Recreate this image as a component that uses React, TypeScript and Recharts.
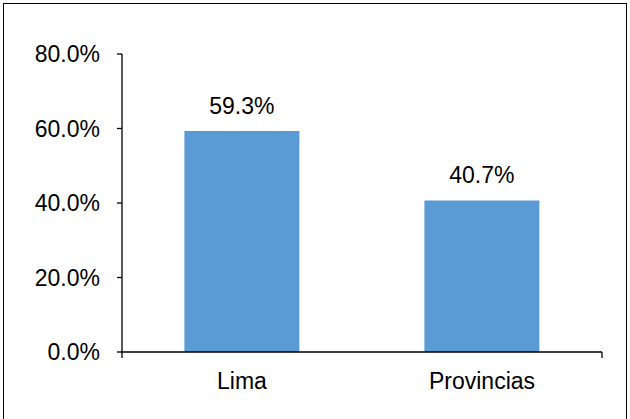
import React from "react";
import { BarChart, Bar, XAxis, YAxis, LabelList } from "recharts";

const regions = ["Lima", "Provincias"];
const shares = [59.3, 40.7];
const yTicks = [0, 20, 40, 60, 80];

const data = regions.map((region, i) => ({ region, share: shares[i] }));

const FONT = "'Liberation Sans', Arial, sans-serif";
const FONT_SIZE = 23;
const BLUE = "#5B9BD5";

const pct = (v: number) => `${v.toFixed(1)}%`;

function ValueLabel(props: any) {
  const { x, y, width, value } = props;
  return (
    <text x={x + width / 2} y={y - 17} textAnchor="middle" fontFamily={FONT} fontSize={FONT_SIZE} fill="#000">
      {pct(value)}
    </text>
  );
}

export default function App() {
  return (
    <div style={{ position: "relative", width: 630, height: 419, background: "#fff" }}>
      <style>{"body{margin:0}"}</style>
      <div
        style={{
          position: "absolute",
          left: 3,
          top: 3,
          width: 624,
          height: 420,
          border: "1px solid #000",
          boxSizing: "border-box",
        }}
      />
      <BarChart
        width={630}
        height={419}
        data={data}
        margin={{ top: 54, right: 28, bottom: 19, left: 8 }}
        barCategoryGap="26%"
        style={{ position: "absolute", left: 0, top: 0 }}
      >
        {/* boundary ticks between categories */}
        <XAxis
          xAxisId="a"
          type="number"
          domain={[0, 2]}
          ticks={[0, 1, 2]}
          height={8}
          tickSize={6}
          tickFormatter={() => ""}
          axisLine={{ stroke: "#000", strokeWidth: 1.3 }}
          tickLine={{ stroke: "#000", strokeWidth: 1.3 }}
        />
        <XAxis
          xAxisId="b"
          dataKey="region"
          height={40}
          axisLine={false}
          tickLine={false}
          tick={{ fontFamily: FONT, fontSize: FONT_SIZE, fill: "#000" }}
          tickMargin={7}
        />
        <YAxis
          domain={[0, 80]}
          ticks={yTicks}
          width={114}
          tickSize={5}
          tickMargin={17}
          tickFormatter={pct}
          tick={{ fontFamily: FONT, fontSize: FONT_SIZE, fill: "#000" }}
          axisLine={{ stroke: "#000", strokeWidth: 1.3 }}
          tickLine={{ stroke: "#000", strokeWidth: 1.3 }}
        />
        <Bar xAxisId="b" dataKey="share" fill={BLUE} isAnimationActive={false}>
          <LabelList dataKey="share" content={ValueLabel} />
        </Bar>
      </BarChart>
    </div>
  );
}
